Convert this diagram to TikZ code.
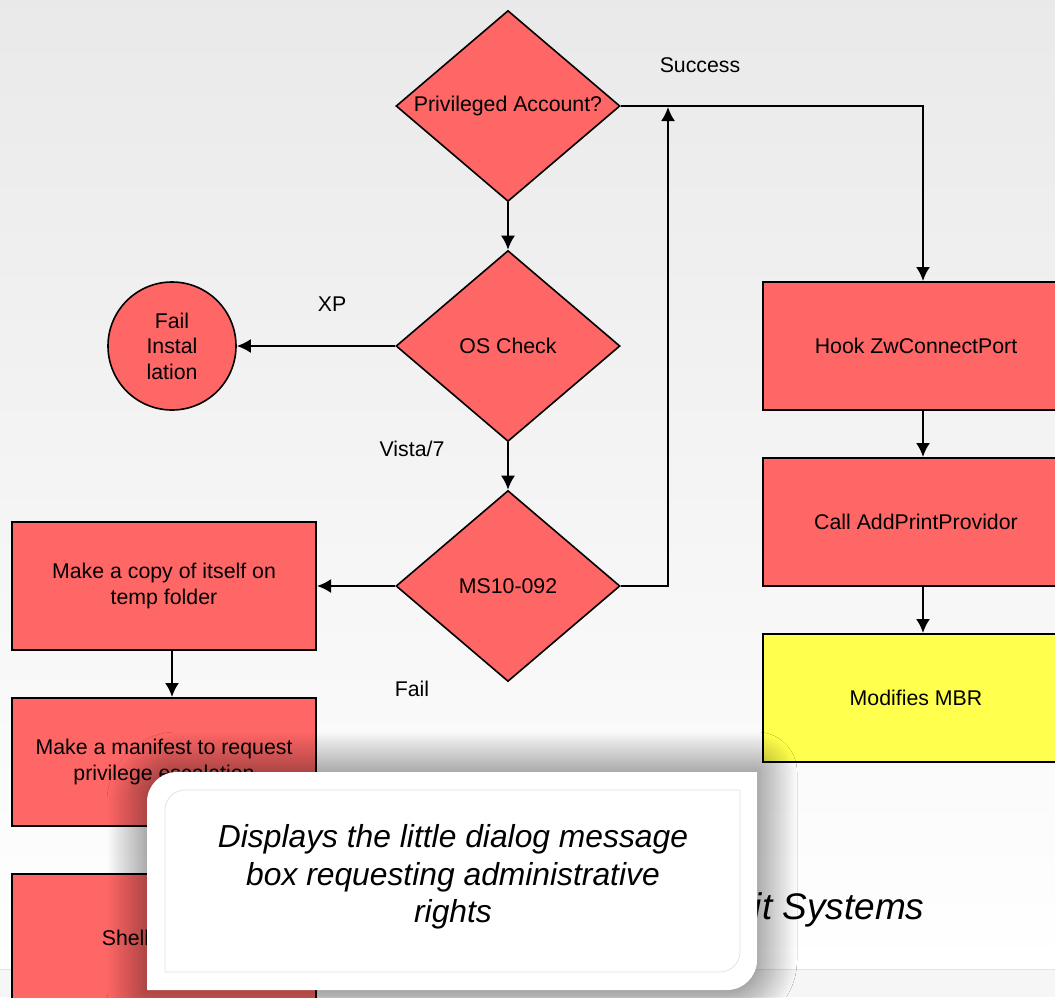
\documentclass[tikz,border=0pt]{standalone}
\usepackage{fontspec}
\setmainfont{Liberation Sans}
\usetikzlibrary{arrows.meta,shapes.geometric,shadows.blur}

\definecolor{boxred}{RGB}{255,102,102}
\definecolor{boxyellow}{RGB}{255,255,77}
\definecolor{popupline}{RGB}{236,222,222}

\tikzset{
    flowfont/.style={font=\fontsize{21.3pt}{25.5pt}\selectfont},
    decision/.style={diamond, aspect=1.173, draw=black, line width=1.6pt,
        fill=boxred, minimum width=224pt, minimum height=191pt,
        inner sep=0pt, flowfont},
    process/.style={rectangle, draw=black, line width=2pt, fill=boxred,
        minimum width=304pt, minimum height=128pt, align=center, flowfont},
    terminal/.style={circle, draw=black, line width=1.6pt, fill=boxred,
        minimum size=128pt, inner sep=0pt, align=center, flowfont},
    branch/.style={flowfont},
    link/.style={->, >={Latex[length=14pt,width=14pt]}, line width=2pt},
}

\begin{document}
\begin{tikzpicture}[x=1pt, y=-1pt]

    \path[use as bounding box] (0,0) rectangle (1055,997);
    \clip (0,0) rectangle (1055,997);

    % slide background
    \shade[top color=gray!17, bottom color=white] (0,0) rectangle (1055,969);
    \fill[gray!7] (0,969) rectangle (1055,997);
    \draw[gray!22, line width=1pt] (0,969) -- (1055,969);

    \node[font=\fontsize{37pt}{44pt}\selectfont\itshape, anchor=base east]
        (title) at (928,919) {it Systems};

    % decisions
    \node[decision] (priv) at (508,106) {Privileged Account?};
    \node[decision] (os) at (508,346) {OS Check};
    \node[decision] (ms) at (508,586) {MS10-092};

    \node[terminal] (fail) at (172,346) {Fail\\Instal\\lation};

    % left branch
    \node[process] (copy) at (164,586) {Make a copy of itself on\\temp folder};
    \node[process] (manifest) at (164,762) {Make a manifest to request\\privilege escalation};
    \node[process] (shell) at (164,938) {Shell\phantom{Execute}};

    % right branch
    \node[process, minimum width=306pt] (hook) at (916,346) {Hook ZwConnectPort};
    \node[process, minimum width=306pt] (addprint) at (916,522) {Call AddPrintProvidor};
    \node[process, minimum width=306pt, fill=boxyellow] (mbr) at (916,698) {Modifies MBR};

    \node[branch] (success) at (700,65) {Success};
    \node[branch] (xp) at (332,304) {XP};
    \node[branch] (vista) at (412,449) {Vista/7};
    \node[branch] (failed) at (412,689) {Fail};

    \coordinate (retry) at (668,107);

    \draw[link] (priv) -- (os);
    \draw[link] (os) -- (ms);
    \draw[link] (os) -- (fail);
    \draw[link] (ms) -- (copy);
    \draw[link] ([xshift=8pt]copy.south) -- ([xshift=8pt]manifest.north);

    \draw[link] (priv.east) -| ([xshift=7pt]hook.north);
    \draw[link] ([xshift=7pt]hook.south) -- ([xshift=7pt]addprint.north);
    \draw[link] ([xshift=7pt]addprint.south) -- ([xshift=7pt]mbr.north);
    \draw[link] (ms.east) -| (retry);

    % popup
    \path[fill=white, blur shadow={shadow xshift=0pt, shadow yshift=0pt,
        shadow blur radius=40pt, shadow blur steps=40, shadow opacity=65}]
        (147,990) -- (147,802) .. controls (147,785.4) and (160.4,772) .. (177,772)
        -- (757,772) -- (757,960) .. controls (757,976.6) and (743.6,990) .. (727,990)
        -- cycle;
    \draw[popupline, line width=0.8pt]
        (165,972) -- (165,810) .. controls (165,799) and (174,790) .. (185,790)
        -- (740,790) -- (740,952) .. controls (740,963) and (731,972) .. (720,972)
        -- cycle;

    \node[font=\fontsize{31.8pt}{37.5pt}\selectfont\itshape, align=center]
        (note) at (453,877) {Displays the little dialog message\\box requesting administrative\\rights};

\end{tikzpicture}
\end{document}
